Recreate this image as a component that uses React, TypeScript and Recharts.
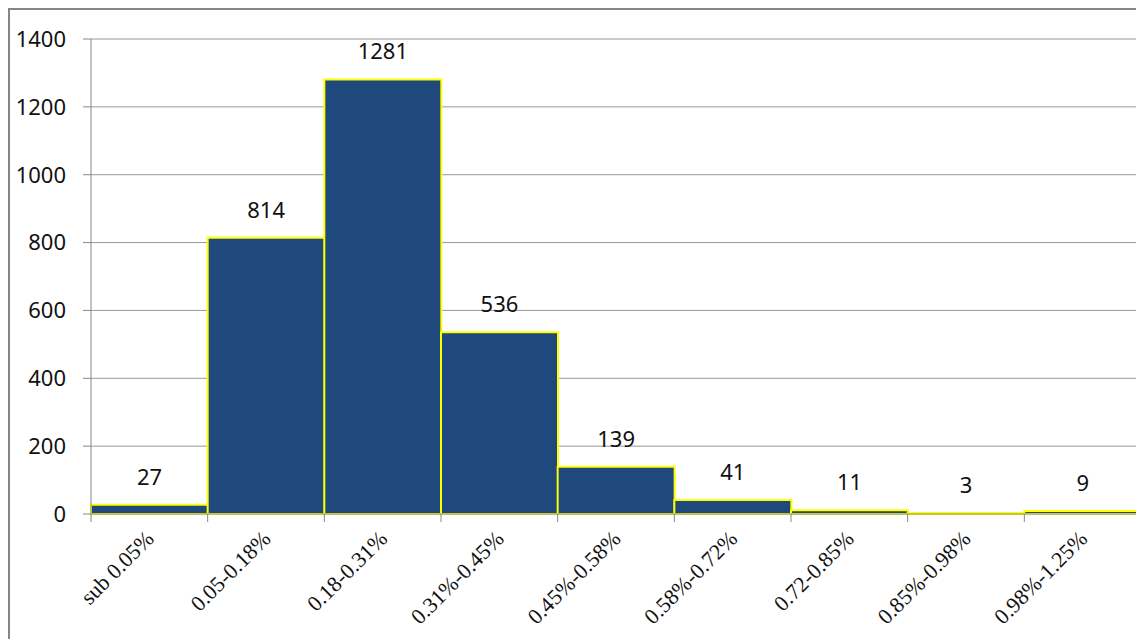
import { BarChart, Bar, XAxis, YAxis, CartesianGrid, LabelList } from 'recharts'

const categories = [
  'sub 0.05%',
  '0.05-0.18%',
  '0.18-0.31%',
  '0.31%-0.45%',
  '0.45%-0.58%',
  '0.58%-0.72%',
  '0.72-0.85%',
  '0.85%-0.98%',
  '0.98%-1.25%',
]
const counts = [27, 814, 1281, 536, 139, 41, 11, 3, 9]
const yTicks = [0, 200, 400, 600, 800, 1000, 1200, 1400]

const data = categories.map((name, i) => ({ name, count: counts[i] }))

const CHART_W = 1140
const CHART_H = 640
const PLOT_LEFT = 81
const PLOT_RIGHT_MARGIN = 9
const BAND = (CHART_W - PLOT_LEFT - PLOT_RIGHT_MARGIN) / categories.length

const SERIF = '"Liberation Serif", "Times New Roman", serif'
const SANS = '"Noto Sans", "Open Sans", sans-serif'

// x tick: boundary tick mark plus a rotated serif label
function XTick(props: any) {
  const { x, y, payload, index } = props
  const left = x - BAND / 2
  const tx = x + 6
  const ty = y + 18
  return (
    <g>
      <line x1={left} y1={y - 8} x2={left} y2={y} stroke="#888" />
      {index === categories.length - 1 && (
        <line x1={left + BAND} y1={y - 8} x2={left + BAND} y2={y} stroke="#888" />
      )}
      <text
        x={tx}
        y={ty}
        textAnchor="end"
        transform={`rotate(-45 ${tx} ${ty})`}
        fontFamily={SERIF}
        fontSize={22}
        fill="#111"
      >
        {payload.value}
      </text>
    </g>
  )
}

export default function App() {
  // fixed box clipped at the viewport edge, so the page never scrolls
  return (
    <div
      style={{
        position: 'fixed',
        left: 8,
        top: 8,
        right: 0,
        bottom: 0,
        overflow: 'hidden',
      }}
    >
      <div
        style={{
          width: 1170,
          height: 680,
          border: '2px solid #868686',
          boxSizing: 'border-box',
          background: '#fff',
        }}
      >
        <BarChart
          width={CHART_W}
          height={CHART_H}
          data={data}
          margin={{ top: 29, right: PLOT_RIGHT_MARGIN, bottom: 16, left: 0 }}
          barCategoryGap={0}
        >
          <CartesianGrid vertical={false} stroke="#989898" strokeWidth={1} />
          <XAxis
            dataKey="name"
            interval={0}
            height={120}
            stroke="#888"
            tickLine={false}
            tick={<XTick />}
          />
          <YAxis
            width={PLOT_LEFT}
            domain={[0, 1400]}
            ticks={yTicks}
            interval={0}
            stroke="#888"
            tickSize={8}
            tickMargin={17}
            tick={{ fill: '#111', fontSize: 22, fontFamily: SANS }}
          />
          <Bar
            dataKey="count"
            fill="#1F497D"
            stroke="#FFFF00"
            strokeWidth={2}
            isAnimationActive={false}
          >
            <LabelList
              dataKey="count"
              position="top"
              offset={20}
              fill="#111"
              fontSize={22}
              fontFamily={SANS}
            />
          </Bar>
        </BarChart>
      </div>
    </div>
  )
}
